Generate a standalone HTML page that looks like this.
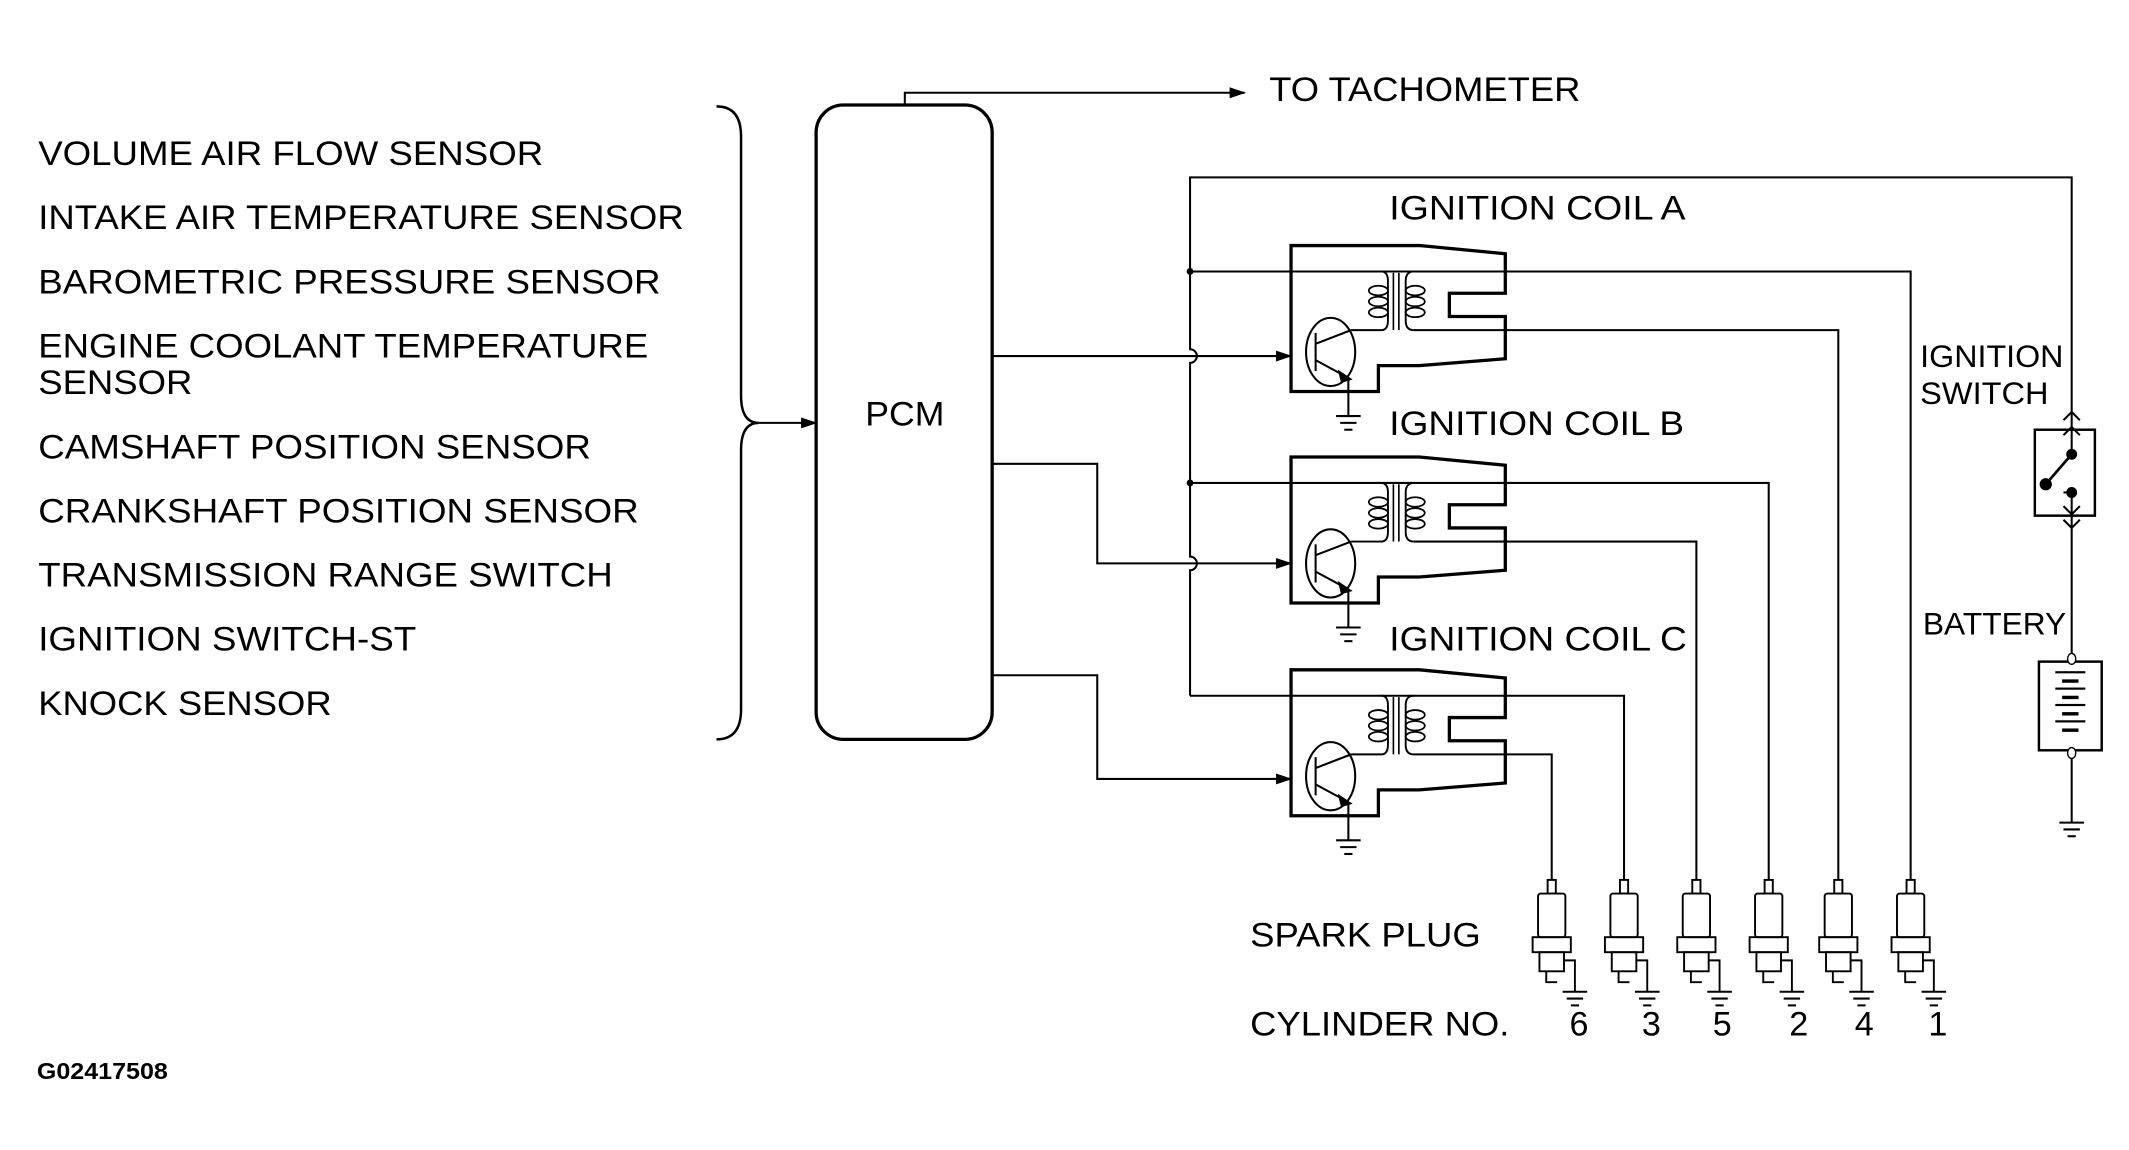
<!DOCTYPE html>
<html><head><meta charset="utf-8"><style>
html,body{margin:0;padding:0;background:#fff;}
svg{display:block;}
text{font-family:"Liberation Sans",Arial,sans-serif;fill:#000;}
</style></head><body>
<svg width="2129" height="1150" viewBox="0 0 1560 843" preserveAspectRatio="none" xmlns="http://www.w3.org/2000/svg">
<defs>
<marker id="ar" markerWidth="12" markerHeight="10" refX="11" refY="5" orient="auto" markerUnits="userSpaceOnUse">
<path d="M0,1 L12,5 L0,9 Z" fill="#000"/></marker>
<g id="gnd" stroke="#000" stroke-width="1.5"><line x1="-9" y1="0" x2="9" y2="0"/><line x1="-6" y1="5" x2="6" y2="5"/><line x1="-3" y1="10" x2="3" y2="10"/></g>
<g id="coil" fill="none" stroke="#000">
<path d="M946,0 L1040,0 L1103,6 L1103,35 L1062,35 L1062,52 L1103,52 L1103,83 L1040,88 L1010,88 L1010,107 L946,107 Z" stroke-width="2.4"/>
<ellipse cx="975" cy="78" rx="18" ry="25" stroke-width="1.5"/>
<line x1="964" y1="64" x2="964" y2="92" stroke-width="1.5"/>
<line x1="964" y1="72" x2="990" y2="62" stroke-width="1.5"/>
<line x1="964" y1="84" x2="988" y2="97" stroke-width="1.5"/>
<path d="M981,92 L990,98 L983,100 Z" fill="#000"/>
<line x1="988" y1="97" x2="988" y2="125" stroke-width="1.5"/>
<path d="M990,62 L1012,62 Q1017,62 1017,55 L1017,26 Q1017,19 1012,19" stroke-width="1.4"/>
<path d="M1036,62 Q1030,62 1030,55 L1030,26 Q1030,19 1036,19" stroke-width="1.4"/>
<line x1="1021" y1="20" x2="1021" y2="62" stroke-width="1.2"/>
<line x1="1025" y1="20" x2="1025" y2="62" stroke-width="1.2"/>
<ellipse cx="1010" cy="33" rx="7" ry="3.5" stroke-width="1.3"/>
<ellipse cx="1010" cy="41" rx="7" ry="3.5" stroke-width="1.3"/>
<ellipse cx="1010" cy="49" rx="7" ry="3.5" stroke-width="1.3"/>
<ellipse cx="1037" cy="33" rx="7" ry="3.5" stroke-width="1.3"/>
<ellipse cx="1037" cy="41" rx="7" ry="3.5" stroke-width="1.3"/>
<ellipse cx="1037" cy="49" rx="7" ry="3.5" stroke-width="1.3"/>
<use href="#gnd" x="988" y="125"/>
</g>
<g id="plug" fill="none" stroke="#000" stroke-width="1.4">
<rect x="-3" y="0" width="6" height="10"/>
<rect x="-10" y="10" width="20" height="32" rx="2"/>
<rect x="-14" y="42" width="28" height="11"/>
<rect x="-9" y="53" width="18" height="14"/>
<path d="M-4,67 L-4,75 L4,75"/>
<path d="M9,59 L17,59 L17,82"/>
<use href="#gnd" x="17" y="82"/>
</g>
</defs>

<g font-size="25">
<text x="28" y="121" textLength="370" lengthAdjust="spacingAndGlyphs">VOLUME AIR FLOW SENSOR</text>
<text x="28" y="168" textLength="473" lengthAdjust="spacingAndGlyphs">INTAKE AIR TEMPERATURE SENSOR</text>
<text x="28" y="215" textLength="456" lengthAdjust="spacingAndGlyphs">BAROMETRIC PRESSURE SENSOR</text>
<text x="28" y="262" textLength="447" lengthAdjust="spacingAndGlyphs">ENGINE COOLANT TEMPERATURE</text>
<text x="28" y="289" textLength="113" lengthAdjust="spacingAndGlyphs">SENSOR</text>
<text x="28" y="336" textLength="405" lengthAdjust="spacingAndGlyphs">CAMSHAFT POSITION SENSOR</text>
<text x="28" y="383" textLength="440" lengthAdjust="spacingAndGlyphs">CRANKSHAFT POSITION SENSOR</text>
<text x="28" y="430" textLength="421" lengthAdjust="spacingAndGlyphs">TRANSMISSION RANGE SWITCH</text>
<text x="28" y="477" textLength="277" lengthAdjust="spacingAndGlyphs">IGNITION SWITCH-ST</text>
<text x="28" y="524" textLength="215" lengthAdjust="spacingAndGlyphs">KNOCK SENSOR</text>
<text x="634" y="312" textLength="58" lengthAdjust="spacingAndGlyphs">PCM</text>
<text x="930" y="74" textLength="228" lengthAdjust="spacingAndGlyphs">TO TACHOMETER</text>
<text x="1018" y="161" textLength="217" lengthAdjust="spacingAndGlyphs">IGNITION COIL A</text>
<text x="1018" y="319" textLength="216" lengthAdjust="spacingAndGlyphs">IGNITION COIL B</text>
<text x="1018" y="477" textLength="218" lengthAdjust="spacingAndGlyphs">IGNITION COIL C</text>
<text x="916" y="694" textLength="169" lengthAdjust="spacingAndGlyphs">SPARK PLUG</text>
<text x="916" y="759" textLength="190" lengthAdjust="spacingAndGlyphs">CYLINDER NO.</text>
<text x="1157" y="759" text-anchor="middle">6</text>
<text x="1210" y="759" text-anchor="middle">3</text>
<text x="1262" y="759" text-anchor="middle">5</text>
<text x="1318" y="759" text-anchor="middle">2</text>
<text x="1366" y="759" text-anchor="middle">4</text>
<text x="1420" y="759" text-anchor="middle">1</text>
</g>
<g font-size="23">
<text x="1407" y="269" textLength="105" lengthAdjust="spacingAndGlyphs">IGNITION</text>
<text x="1407" y="296" textLength="94" lengthAdjust="spacingAndGlyphs">SWITCH</text>
<text x="1409" y="465" textLength="105" lengthAdjust="spacingAndGlyphs">BATTERY</text>
</g>
<text x="27" y="791" font-size="17" font-weight="bold" textLength="96" lengthAdjust="spacingAndGlyphs">G02417508</text>

<g fill="none" stroke="#000" stroke-width="1.5">
<!-- brace -->
<path d="M525,78 Q543,78 543,100 L543,290 Q543,310 556,310 Q543,310 543,330 L543,520 Q543,542 525,542" stroke-width="1.8"/>
<line x1="556" y1="310" x2="598" y2="310" marker-end="url(#ar)"/>
<rect x="598" y="77" width="129" height="465" rx="20" stroke-width="2.4"/>
<path d="M663,77 L663,68 L912,68" marker-end="url(#ar)"/>
<!-- supply -->
<path d="M872,510 L872,418 A5,5 0 0 0 872,408 L872,266 A5,5 0 0 0 872,256 L872,130 L1518,130 L1518,315"/>
<!-- PCM outputs -->
<line x1="727" y1="261" x2="946" y2="261" marker-end="url(#ar)"/>
<path d="M727,340 L804,340 L804,413 L946,413" marker-end="url(#ar)"/>
<path d="M727,495 L804,495 L804,571 L946,571" marker-end="url(#ar)"/>
<!-- primaries -->
<path d="M872,199 L1400,199 L1400,645"/>
<path d="M872,354 L1296,354 L1296,645"/>
<path d="M872,510 L1190,510 L1190,645"/>
<!-- secondaries -->
<path d="M1036,242 L1347,242 L1347,645"/>
<path d="M1036,397 L1243,397 L1243,645"/>
<path d="M1036,553 L1137,553 L1137,645"/>
<!-- switch -->
<rect x="1491" y="315" width="44" height="63" stroke-width="1.8"/>
<path d="M1512,308 L1518,302 L1524,308 M1512,319 L1518,313 L1524,319 M1512,371 L1518,377 L1524,371 M1512,381 L1518,387 L1524,381"/>
<line x1="1518" y1="315" x2="1518" y2="333"/>
<line x1="1518" y1="333" x2="1499" y2="355" stroke-width="2"/>
<line x1="1518" y1="361" x2="1518" y2="485"/>
<line x1="1512" y1="361" x2="1518" y2="361"/>
<!-- battery -->
<rect x="1494" y="485" width="46" height="65" stroke-width="1.8"/>
<line x1="1518" y1="550" x2="1518" y2="603"/>
</g>
<g fill="#000">
<circle cx="872" cy="199" r="2.5"/><circle cx="872" cy="354" r="2.5"/>
<circle cx="1518" cy="333" r="4"/><circle cx="1499" cy="355" r="4.5"/><circle cx="1518" cy="361" r="4"/>
<rect x="1506" y="492" width="22" height="1.6"/><rect x="1511" y="498" width="12" height="2.5"/>
<rect x="1506" y="504" width="22" height="1.6"/><rect x="1511" y="510" width="12" height="2.5"/>
<rect x="1506" y="516" width="22" height="1.6"/><rect x="1511" y="522" width="12" height="2.5"/>
<rect x="1506" y="528" width="22" height="1.6"/><rect x="1511" y="534" width="12" height="2.5"/>
<ellipse cx="1518" cy="483" rx="3" ry="4" fill="#fff" stroke="#000"/>
<ellipse cx="1518" cy="552" rx="3" ry="4" fill="#fff" stroke="#000"/>
</g>
<use href="#gnd" x="1518" y="603"/>
<use href="#coil" x="0" y="180"/>
<use href="#coil" x="0" y="335"/>
<use href="#coil" x="0" y="491"/>
<use href="#plug" x="1137" y="645"/>
<use href="#plug" x="1190" y="645"/>
<use href="#plug" x="1243" y="645"/>
<use href="#plug" x="1296" y="645"/>
<use href="#plug" x="1347" y="645"/>
<use href="#plug" x="1400" y="645"/>
</svg>
</body></html>
